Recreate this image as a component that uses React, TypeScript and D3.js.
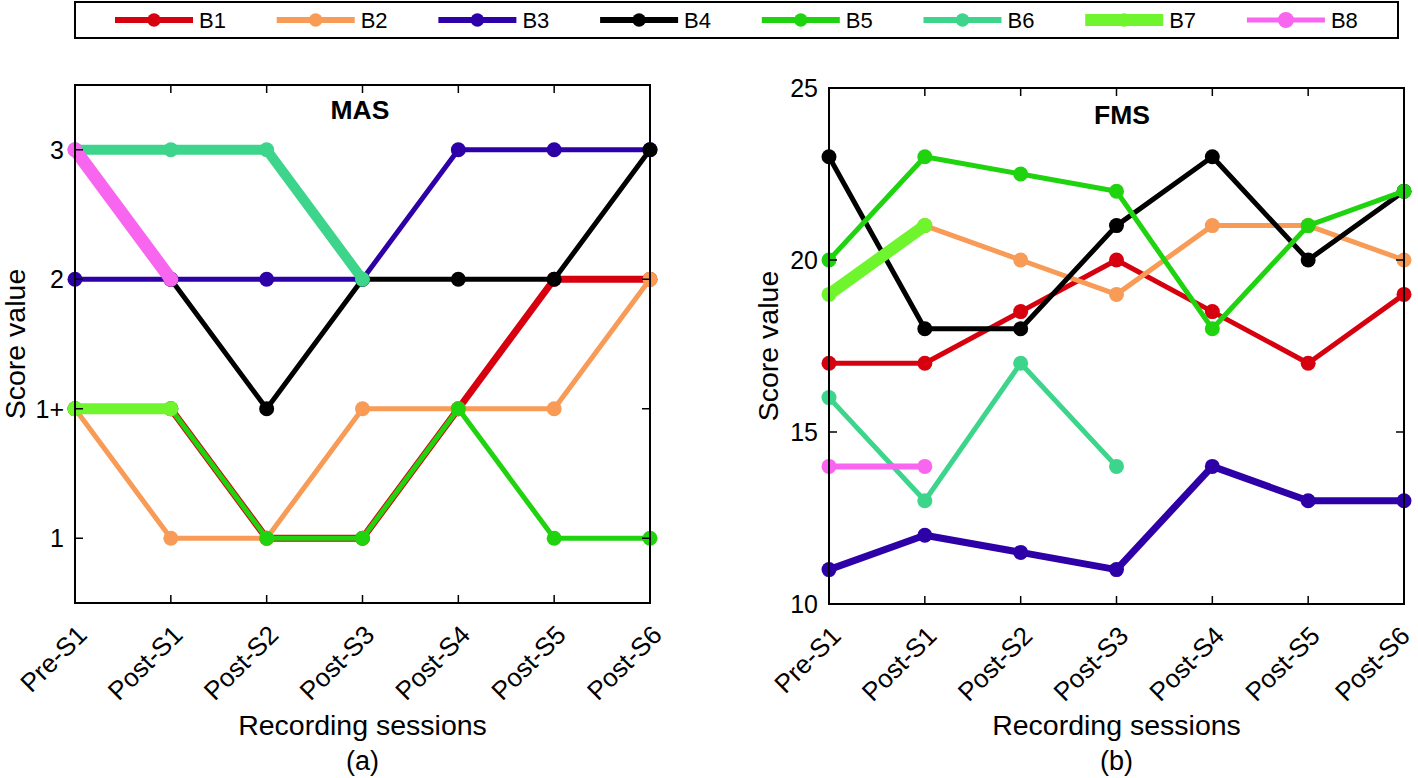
import React from "react";
import * as d3 from "d3";

const sessions = ["Pre-S1", "Post-S1", "Post-S2", "Post-S3", "Post-S4", "Post-S5", "Post-S6"];
const masLevels = ["1", "1+", "2", "3"]; // coded 1..4
const seriesNames = ["B1", "B2", "B3", "B4", "B5", "B6", "B7", "B8"];
const seriesColors = ["#d7000f", "#f89b56", "#2e00a8", "#000000", "#1fd40f", "#3dd58b", "#6ef52d", "#f865ee"];

// MAS values coded: 1 -> "1", 2 -> "1+", 3 -> "2", 4 -> "3"
const masB1 = [2, 2, 1, 1, 2, 3, 3];
const masB2 = [2, 1, 1, 2, 2, 2, 3];
const masB3 = [3, 3, 3, 3, 4, 4, 4];
const masB4 = [null, 3, 2, 3, 3, 3, 4];
const masB5 = [2, 2, 1, 1, 2, 1, 1];
const masB6 = [4, 4, 4, 3, null, null, null];
const masB7 = [2, 2, null, null, null, null, null];
const masB8 = [4, 3, null, null, null, null, null];

const fmsB1 = [17, 17, 18.5, 20, 18.5, 17, 19];
const fmsB2 = [null, 21, 20, 19, 21, 21, 20];
const fmsB3 = [11, 12, 11.5, 11, 14, 13, 13];
const fmsB4 = [23, 18, 18, 21, 23, 20, 22];
const fmsB5 = [20, 23, 22.5, 22, 18, 21, 22];
const fmsB6 = [16, 13, 17, 14, null, null, null];
const fmsB7 = [19, 21, null, null, null, null, null];
const fmsB8 = [14, 14, null, null, null, null, null];
const fmsTicks = [10, 15, 20, 25];

const masData = [masB1, masB2, masB3, masB4, masB5, masB6, masB7, masB8];
const fmsData = [fmsB1, fmsB2, fmsB3, fmsB4, fmsB5, fmsB6, fmsB7, fmsB8];
const masWidths = [7, 5, 5, 5, 5, 10, 11, 13];
const fmsWidths = [5, 5, 7, 5, 5, 5, 12, 6];
const legendWidths = [6, 6, 6, 6, 6, 6, 12, 5];
const legendRadius = [6.7, 6.7, 6.7, 6.7, 6.7, 6.7, 6.7, 8];

const FONT = "Liberation Sans, Arial, sans-serif";

type PanelProps = {
  x0: number; x1: number; y0: number; y1: number;
  data: (number | null)[][];
  widths: number[];
  yDomain: [number, number];
  yTicks: number[];
  yTickLabel: (v: number) => string;
  title: string; titleX: number; titleY: number;
  sub: string; ylabelX: number;
};

function Panel(p: PanelProps) {
  const x = d3.scalePoint<string>().domain(sessions).range([p.x0, p.x1]);
  const y = d3.scaleLinear().domain(p.yDomain).range([p.y1, p.y0]);
  const tickLen = 8;
  const midX = (p.x0 + p.x1) / 2;
  return (
    <g>
      {p.data.map((vals, si) => {
        const pts = vals.map((v, i) => ({ v, s: sessions[i] }));
        const line = d3.line<{ v: number | null; s: string }>()
          .defined(d => d.v !== null)
          .x(d => x(d.s)!)
          .y(d => y(d.v as number));
        return (
          <g key={si}>
            <path d={line(pts) || ""} fill="none" stroke={seriesColors[si]} strokeWidth={p.widths[si]} strokeLinejoin="round" />
            {pts.filter(d => d.v !== null).map((d, i) => (
              <circle key={i} cx={x(d.s)} cy={y(d.v as number)} r={7.5} fill={seriesColors[si]} />
            ))}
          </g>
        );
      })}
      <rect x={p.x0} y={p.y0} width={p.x1 - p.x0} height={p.y1 - p.y0} fill="none" stroke="#000" strokeWidth={2} />
      {sessions.map((s) => (
        <g key={s}>
          <line x1={x(s)} x2={x(s)} y1={p.y1} y2={p.y1 - tickLen} stroke="#000" strokeWidth={1.5} />
          <line x1={x(s)} x2={x(s)} y1={p.y0} y2={p.y0 + tickLen} stroke="#000" strokeWidth={1.5} />
          <text transform={`translate(${Math.min(x(s)! + 7, 1405)},${p.y1 + 27}) rotate(-45)`} textAnchor="end" dy="0.35em" fontSize={26} fontFamily={FONT}>{s}</text>
        </g>
      ))}
      {p.yTicks.map(t => (
        <g key={t}>
          <line x1={p.x0} x2={p.x0 + tickLen} y1={y(t)} y2={y(t)} stroke="#000" strokeWidth={1.5} />
          <line x1={p.x1} x2={p.x1 - tickLen} y1={y(t)} y2={y(t)} stroke="#000" strokeWidth={1.5} />
          <text x={p.x0 - 11} y={y(t)} dy="0.36em" textAnchor="end" fontSize={25} fontFamily={FONT}>{p.yTickLabel(t)}</text>
        </g>
      ))}
      <text x={p.titleX} y={p.titleY} textAnchor="middle" fontSize={26.5} fontWeight="bold" fontFamily={FONT}>{p.title}</text>
      <text transform={`translate(${p.ylabelX},${(p.y0 + p.y1) / 2}) rotate(-90)`} textAnchor="middle" fontSize={28.5} fontFamily={FONT}>Score value</text>
      <text x={midX} y={735} textAnchor="middle" fontSize={28.5} fontFamily={FONT}>Recording sessions</text>
      <text x={midX} y={770} textAnchor="middle" fontSize={27} fontFamily={FONT}>{p.sub}</text>
    </g>
  );
}

export default function App() {
  const legendX = d3.scaleLinear().domain([0, 1]).range([115, 115 + 161.7]);
  return (
    <svg width={1418} height={778} style={{ position: "absolute", left: 0, top: 0, background: "#fff" }}>
      <rect x={75} y={2} width={1323} height={36} fill="#fff" stroke="#000" strokeWidth={2} />
      {seriesNames.map((n, i) => {
        const lx = legendX(i);
        return (
          <g key={n}>
            <line x1={lx} x2={lx + 78} y1={20} y2={20} stroke={seriesColors[i]} strokeWidth={legendWidths[i]} />
            <circle cx={lx + 39} cy={20} r={legendRadius[i]} fill={seriesColors[i]} />
            <text x={lx + 84} y={20} dy="0.36em" fontSize={22} fontFamily={FONT}>{n}</text>
          </g>
        );
      })}
      <Panel x0={75} x1={650} y0={85} y1={603} data={masData} widths={masWidths}
        yDomain={[0.5, 4.5]} yTicks={[1, 2, 3, 4]} yTickLabel={v => masLevels[v - 1]}
        title="MAS" titleX={360} titleY={119} sub="(a)" ylabelX={25} />
      <Panel x0={829} x1={1404} y0={88} y1={604} data={fmsData} widths={fmsWidths}
        yDomain={[10, 25]} yTicks={fmsTicks} yTickLabel={v => String(v)}
        title="FMS" titleX={1122} titleY={124} sub="(b)" ylabelX={778} />
    </svg>
  );
}
